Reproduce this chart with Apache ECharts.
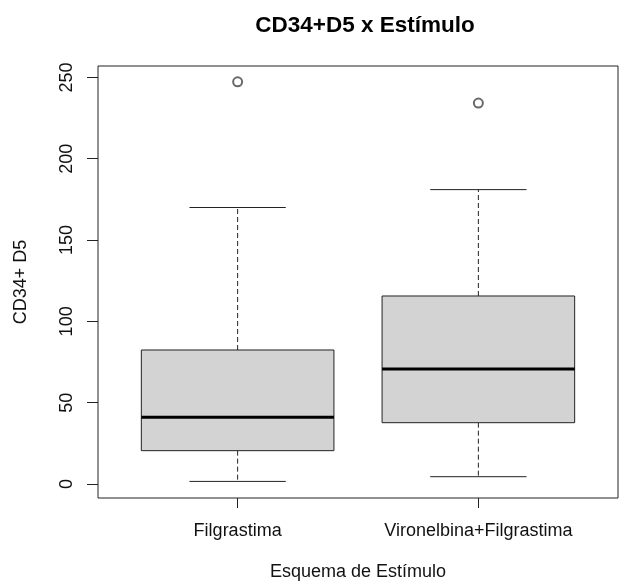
<!DOCTYPE html>
<html>
<head>
<meta charset="utf-8">
<script src="https://cdn.jsdelivr.net/npm/echarts@6/dist/echarts.min.js"></script>
<style>
  html, body { margin: 0; padding: 0; background: #fff; }
  #chart { width: 620px; height: 583px; }
</style>
</head>
<body>
<div id="chart"></div>
<script>
// data
const categories = ['Filgrastima', 'Vironelbina+Filgrastima'];
const lowerWhisker = [1.6, 4.5];
const q1 = [20.5, 37.7];
const median = [41, 70.7];
const q3 = [82.4, 115.6];
const upperWhisker = [170, 181];
const outlierGroup = [0, 1];
const outlierValue = [247.3, 234.2];
const yTicks = [0, 50, 100, 150, 200, 250];

const boxData = categories.map((c, i) => [i + 1, lowerWhisker[i], q1[i], median[i], q3[i], upperWhisker[i]]);
const outlierData = outlierGroup.map((g, i) => [g + 1, outlierValue[i]]);

const font = 'Liberation Sans, Arial, sans-serif';
const chart = echarts.init(document.getElementById('chart'));

function renderBox(params, api) {
    const x = api.value(0);
    const lo = api.value(1), b1 = api.value(2), med = api.value(3), b3 = api.value(4), hi = api.value(5);
    const pLoL = api.coord([x - 0.2, lo]), pLoR = api.coord([x + 0.2, lo]);
    const pHiL = api.coord([x - 0.2, hi]), pHiR = api.coord([x + 0.2, hi]);
    const c = api.coord([x, 0])[0];
    const tl = api.coord([x - 0.4, b3]), br = api.coord([x + 0.4, b1]);
    const mL = api.coord([x - 0.4, med]), mR = api.coord([x + 0.4, med]);
    const yLo = api.coord([x, lo])[1], yB1 = api.coord([x, b1])[1];
    const yB3 = api.coord([x, b3])[1], yHi = api.coord([x, hi])[1];
    const dash = { stroke: '#222', lineWidth: 1, lineDash: [5, 3] };
    const solid = { stroke: '#222', lineWidth: 1 };
    return {
        type: 'group',
        children: [
            // whiskers
            { type: 'line', shape: { x1: c, y1: yB1, x2: c, y2: yLo }, style: dash },
            { type: 'line', shape: { x1: c, y1: yB3, x2: c, y2: yHi }, style: dash },
            // caps
            { type: 'line', shape: { x1: pLoL[0], y1: pLoL[1], x2: pLoR[0], y2: pLoR[1] }, style: solid },
            { type: 'line', shape: { x1: pHiL[0], y1: pHiL[1], x2: pHiR[0], y2: pHiR[1] }, style: solid },
            // box
            { type: 'rect', shape: { x: tl[0], y: tl[1], width: br[0] - tl[0], height: br[1] - tl[1] },
              style: { fill: '#d3d3d3', stroke: '#222', lineWidth: 1 } },
            // median
            { type: 'line', shape: { x1: mL[0], y1: mL[1], x2: mR[0], y2: mR[1] }, style: { stroke: '#000', lineWidth: 3 } }
        ]
    };
}

chart.setOption({
    animation: false,
    backgroundColor: '#fff',
    title: {
        text: 'CD34+D5 x Estímulo',
        left: 360,
        top: 9,
        textAlign: 'center',
        textStyle: { fontFamily: font, fontSize: 22.5, fontWeight: 'bold', color: '#000' }
    },
    grid: {
        left: 98, right: 2, top: 66, bottom: 85,
        containLabel: false,
        outerBoundsMode: 'none',
        show: true, borderColor: '#222', borderWidth: 1, backgroundColor: 'transparent'
    },
    xAxis: {
        type: 'value',
        min: 0.42,
        max: 2.58,
        name: 'Esquema de Estímulo',
        nameLocation: 'middle',
        nameGap: 65,
        nameTextStyle: { fontFamily: font, fontSize: 18, color: '#111' },
        axisLine: { show: false, onZero: false },
        splitLine: { show: false },
        axisTick: { show: true, length: 10, customValues: [1, 2], lineStyle: { color: '#222' } },
        axisLabel: {
            customValues: [1, 2],
            margin: 24,
            fontFamily: font, fontSize: 18, color: '#111',
            formatter: v => categories[Math.round(v) - 1]
        }
    },
    yAxis: {
        type: 'value',
        min: -8.6,
        max: 257,
        name: 'CD34+ D5',
        nameLocation: 'middle',
        nameRotate: 90,
        nameGap: 68,
        nameTextStyle: { fontFamily: font, fontSize: 18, color: '#111' },
        axisLine: { show: false, onZero: false },
        splitLine: { show: false },
        axisTick: { show: true, length: 11, customValues: yTicks, lineStyle: { color: '#222' } },
        axisLabel: {
            customValues: yTicks,
            rotate: 90,
            margin: 22,
            fontFamily: font, fontSize: 18, color: '#111'
        }
    },
    series: [
        {
            type: 'custom',
            renderItem: renderBox,
            encode: { x: 0, y: [1, 2, 3, 4, 5] },
            data: boxData,
            z: 2
        },
        {
            type: 'scatter',
            symbol: 'emptyCircle',
            symbolSize: 9,
            itemStyle: { color: '#444', borderWidth: 1 },
            data: outlierData,
            z: 3
        }
    ]
});
</script>
</body>
</html>
